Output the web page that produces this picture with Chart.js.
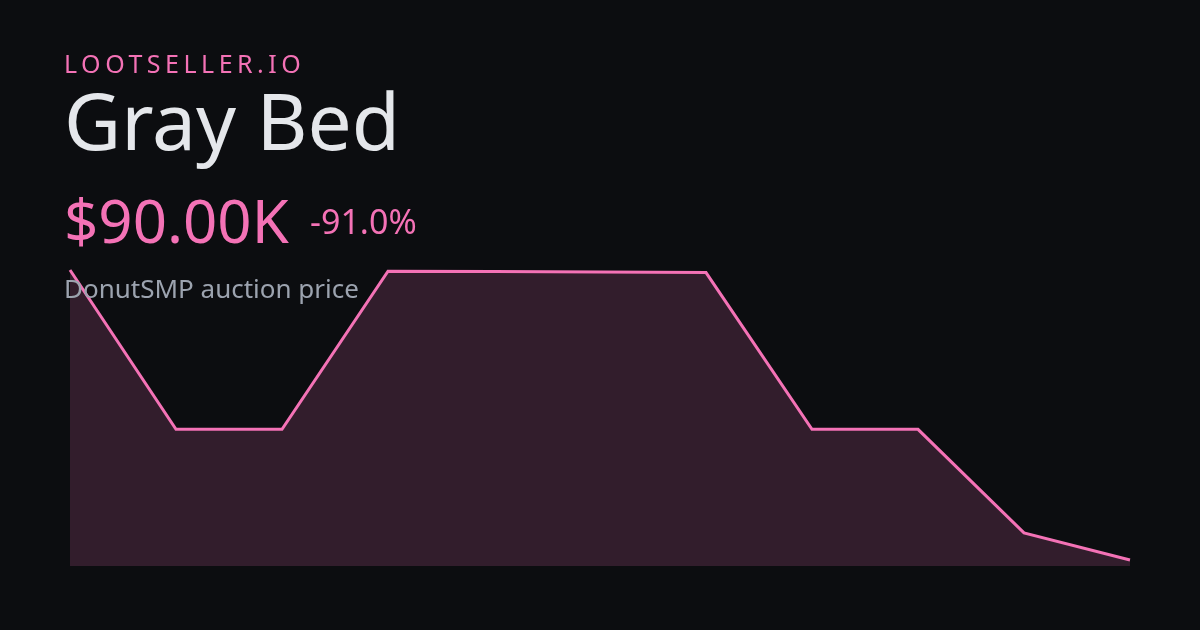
<!DOCTYPE html>
<html>
<head>
<meta charset="utf-8">
<script src="https://cdn.jsdelivr.net/npm/chart.js@4"></script>
<style>
  html, body {
    margin: 0;
    padding: 0;
    background: #0c0d10;
  }
  #wrap {
    position: relative;
    width: 1200px;
    height: 630px;
    overflow: hidden;
    font-family: "Noto Sans", sans-serif;
  }
  #chart {
    position: absolute;
    left: 0;
    top: 0;
  }
  .txt {
    position: absolute;
    left: 64px;
    white-space: nowrap;
    line-height: 1;
    z-index: 2;
  }
  #brand { top: 51px; font-size: 25px; letter-spacing: 4.5px; color: #f472b6; }
  #title { top: 81px; font-size: 78.5px; color: #e5e7eb; }
  #price { top: 190px; font-size: 60px; color: #f472b6; }
  #change { top: 204px; left: 310px; font-size: 34px; color: #f472b6; }
  #sub { top: 275px; font-size: 26px; color: #9ca3af; }
</style>
</head>
<body>
<div id="wrap">
  <canvas id="chart" width="1200" height="630"></canvas>
  <div class="txt" id="brand">LOOTSELLER.IO</div>
  <div class="txt" id="title">Gray Bed</div>
  <div class="txt" id="price">$90.00K</div>
  <div class="txt" id="change">-91.0%</div>
  <div class="txt" id="sub">DonutSMP auction price</div>
</div>
<script>
// auction price in thousands of dollars, one sample per step
const labels = ['1', '2', '3', '4', '5', '6', '7', '8', '9', '10', '11'];
const prices = [1000, 500, 500, 996, 995, 994, 992, 500, 500, 175, 90];

const yMin = 71;
const yMax = 1000;

const canvas = document.getElementById('chart');

const chart = new Chart(canvas, {
  type: 'line',
  data: {
    labels: labels,
    datasets: [{
      data: prices,
      borderColor: '#f472b6',
      backgroundColor: 'rgba(244, 114, 182, 0.17)',
      borderWidth: 3,
      fill: 'start',
      tension: 0,
      pointRadius: 0,
      clip: false
    }]
  },
  options: {
    responsive: false,
    animation: false,
    layout: {
      padding: { left: 70, right: 70, top: 270, bottom: 64 }
    },
    plugins: {
      legend: { display: false },
      tooltip: { enabled: false }
    },
    scales: {
      x: { display: false, offset: false },
      y: { display: false, min: yMin, max: yMax }
    }
  }
});
</script>
</body>
</html>
